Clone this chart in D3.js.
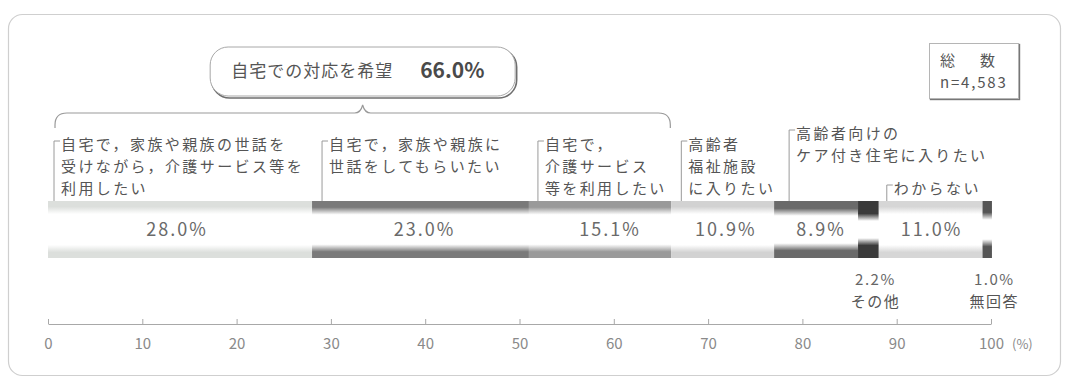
<!DOCTYPE html>
<html lang="ja">
<head>
<meta charset="utf-8">
<script src="https://cdn.jsdelivr.net/npm/d3@7"></script>
<style>
  html, body { margin: 0; padding: 0; background: #fff; }
  svg { display: block; }
  text { font-family: "Noto Sans CJK JP", "Noto Sans", sans-serif; }
</style>
</head>
<body>
<svg id="chart" width="1068" height="380"></svg>
<script>
// 介護を受けたい場所の希望（総数）
const categories = [
  "自宅で，家族や親族の世話を受けながら，介護サービス等を利用したい",
  "自宅で，家族や親族に世話をしてもらいたい",
  "自宅で，介護サービス等を利用したい",
  "高齢者福祉施設に入りたい",
  "高齢者向けのケア付き住宅に入りたい",
  "その他",
  "わからない",
  "無回答"
];
const labelLines = [
  ["自宅で，家族や親族の世話を", "受けながら，介護サービス等を", "利用したい"],
  ["自宅で，家族や親族に", "世話をしてもらいたい"],
  ["自宅で，", "介護サービス", "等を利用したい"],
  ["高齢者", "福祉施設", "に入りたい"],
  ["高齢者向けの", "ケア付き住宅に入りたい"],
  ["その他"],
  ["わからない"],
  ["無回答"]
];
const values = [28.0, 23.0, 15.1, 10.9, 8.9, 2.2, 11.0, 1.0];
const tickValues = [0, 10, 20, 30, 40, 50, 60, 70, 80, 90, 100];
const axisUnit = "(%)";
const homeGroupSize = 3;
const homeGroupTitle = "自宅での対応を希望";
const homeGroupValue = "66.0%";
const totalTitle = "総　数";
const totalCount = "n=4,583";

// ---- layout ----
const svg = d3.select("#chart");

const x = d3.scaleLinear().domain([0, 100]).range([48, 991]);
const y = d3.scaleBand().domain(["総数"]).range([201, 258]).padding(0);
const axisY = 324;

// segment shading: edge colour and the width of the dark band at top/bottom
const segEdge = ["#dcdfdc", "#7a7a7a", "#9a9a9a", "#d2d2d2", "#6a6a6a", "#3a3a3a", "#d6d6d6", "#555555"];
const segBand = [0.10, 0.11, 0.11, 0.10, 0.13, 0.22, 0.10, 0.2];

// placement of the category captions above the bar
const capDx = [6, 10, 9, 10, 15, null, 8, null];
const capTop = [144, 144, 144, 144, 133, null, 188, null];
const capLineH = 22;

const starts = values.map((v, i) => d3.sum(values.slice(0, i)));
const segs = values.map((v, i) => ({ i, v, x0: starts[i], x1: starts[i] + v, name: categories[i], lines: labelLines[i] }));

// outer frame
svg.append("rect")
  .attr("x", 8.5).attr("y", 14.5).attr("width", 1052).attr("height", 361)
  .attr("rx", 14).attr("fill", "#fff").attr("stroke", "#cfcfcf").attr("stroke-width", 1.2);

// gradients
const defs = svg.append("defs");
segs.forEach(s => {
  const b = segBand[s.i];
  const g = defs.append("linearGradient").attr("id", "seg" + s.i)
    .attr("x1", 0).attr("y1", 0).attr("x2", 0).attr("y2", 1);
  [[0, segEdge[s.i]], [b, segEdge[s.i]], [b + 0.13, "#ffffff"], [0.87 - b, "#ffffff"], [1 - b, segEdge[s.i]], [1, segEdge[s.i]]]
    .forEach(([o, c]) => g.append("stop").attr("offset", o).attr("stop-color", c));
});

// bar segments
svg.append("g").selectAll("rect").data(segs).join("rect")
  .attr("x", d => x(d.x0))
  .attr("y", y("総数"))
  .attr("width", d => x(d.x1) - x(d.x0))
  .attr("height", y.bandwidth())
  .attr("fill", d => "url(#seg" + d.i + ")");

// value labels inside the bar
const insideDx = [-3, 4, 10, 3, 5, 0, 1, 0];
svg.append("g").selectAll("text").data(segs.filter(d => d.v >= 5)).join("text")
  .attr("x", d => (x(d.x0) + x(d.x1)) / 2 + insideDx[d.i])
  .attr("y", y("総数") + y.bandwidth() / 2 + 6.5)
  .attr("text-anchor", "middle")
  .attr("font-family", "DejaVu Sans")
  .attr("font-size", 18)
  .attr("letter-spacing", 2)
  .attr("fill", "#6a6a6a")
  .text(d => d.v.toFixed(1) + "%");

// captions for the thin segments, below the bar
const below = svg.append("g").selectAll("g").data(segs.filter(d => d.v < 5)).join("g")
  .attr("transform", d => `translate(${(x(d.x0) + x(d.x1)) / 2 + 7},0)`);
below.append("text").attr("y", 285).attr("text-anchor", "middle")
  .attr("font-family", "DejaVu Sans").attr("font-size", 15).attr("letter-spacing", 1.5)
  .attr("fill", "#666").text(d => d.v.toFixed(1) + "%");
below.append("text").attr("y", 306.5).attr("text-anchor", "middle")
  .attr("font-size", 15).attr("letter-spacing", 1.5).attr("fill", "#555").text(d => d.lines[0]);

// category captions with bracket leaders
const capG = svg.append("g").selectAll("g").data(segs.filter(d => capDx[d.i] !== null)).join("g");
capG.append("path")
  .attr("d", d => {
    const lx = x(d.x0) + capDx[d.i];
    const ty = capTop[d.i] - 3;
    return `M${lx + 6},${ty}H${lx}V${y("総数")}`;
  })
  .attr("fill", "none").attr("stroke", "#9a9a9a").attr("stroke-width", 1);
capG.each(function (d) {
  const g = d3.select(this);
  d.lines.forEach((ln, k) => {
    g.append("text")
      .attr("x", x(d.x0) + capDx[d.i] + 7)
      .attr("y", capTop[d.i] + k * capLineH + 5.5)
      .attr("font-size", 15).attr("letter-spacing", 2.4).attr("fill", "#555")
      .text(ln);
  });
});

// brace grouping the home-care answers
const bx0 = x(0) + 7;
const bx1 = x(starts[homeGroupSize]) - 1;
const pk = (bx0 + bx1) / 2;
const by = 113;
svg.append("path")
  .attr("d", `M${bx0},128V125Q${bx0},${by} ${bx0 + 12},${by}H${pk - 8}Q${pk - 2},${by} ${pk},${by - 8}Q${pk + 2},${by} ${pk + 8},${by}H${bx1 - 12}Q${bx1},${by} ${bx1},${by + 12}V128`)
  .attr("fill", "none").attr("stroke", "#9a9a9a").attr("stroke-width", 1.2);

// callout with the combined share
const cw = 305, ch = 49, cx0 = pk - cw / 2, cy0 = 47;
svg.append("rect").attr("x", cx0 + 1.5).attr("y", cy0 + 2).attr("width", cw).attr("height", ch)
  .attr("rx", 18).attr("fill", "#fff").attr("stroke", "#6f6f6f").attr("stroke-width", 1.6);
svg.append("rect").attr("x", cx0).attr("y", cy0).attr("width", cw).attr("height", ch)
  .attr("rx", 18).attr("fill", "#fff").attr("stroke", "#a8a8a8").attr("stroke-width", 1);
svg.append("text").attr("x", cx0 + 21).attr("y", cy0 + 30)
  .attr("font-size", 17).attr("letter-spacing", 1).attr("fill", "#555").text(homeGroupTitle);
svg.append("text").attr("x", cx0 + 210).attr("y", cy0 + 31)
  .attr("font-family", "DejaVu Sans").attr("font-weight", "bold")
  .attr("font-size", 21).attr("fill", "#4a4a4a").text(homeGroupValue);

// respondent count box
svg.append("rect").attr("x", 930.5).attr("y", 44.5).attr("width", 89).attr("height", 55)
  .attr("fill", "#fff").attr("stroke", "#777").attr("stroke-width", 1.4);
svg.append("rect").attr("x", 929.5).attr("y", 43.5).attr("width", 89).attr("height", 55)
  .attr("fill", "#fff").attr("stroke", "#b5b5b5").attr("stroke-width", 1);
svg.append("text").attr("x", 940).attr("y", 66).attr("font-size", 15)
  .attr("letter-spacing", 5).attr("fill", "#555").text(totalTitle);
svg.append("text").attr("x", 940).attr("y", 88).attr("font-family", "DejaVu Sans")
  .attr("font-size", 15).attr("letter-spacing", 1.8).attr("fill", "#555").text(totalCount);

// percentage axis
const axis = d3.axisBottom(x).tickValues(tickValues).tickSizeInner(-5).tickSizeOuter(0).tickPadding(14);
const ag = svg.append("g").attr("transform", `translate(0,${axisY})`).call(axis);
ag.select(".domain").attr("stroke", "#a8a8a8");
ag.selectAll(".tick line").attr("stroke", "#a8a8a8");
ag.selectAll(".tick text").attr("font-family", "DejaVu Sans").attr("font-size", 15).attr("fill", "#8a8a8a");
svg.append("text").attr("x", x(100) + 21).attr("y", axisY + 24.5)
  .attr("font-family", "DejaVu Sans").attr("font-size", 13).attr("fill", "#8a8a8a").text(axisUnit);
</script>
</body>
</html>
